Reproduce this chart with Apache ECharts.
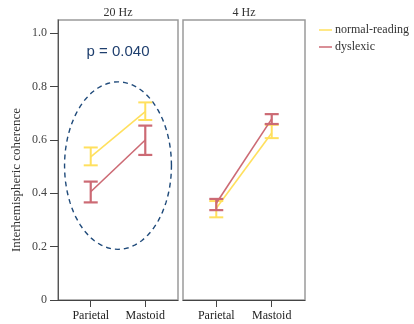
<!DOCTYPE html>
<html><head><meta charset="utf-8">
<script src="https://cdn.jsdelivr.net/npm/echarts@6/dist/echarts.min.js"></script>
<style>html,body{margin:0;padding:0;background:#fff}#c{width:414px;height:324px}</style>
</head><body><div id="c"></div>
<script>
const categories = ['Parietal', 'Mastoid'];
const panelTitles = ['20 Hz', '4 Hz'];
const seriesNames = ['normal-reading', 'dyslexic'];
// 20 Hz panel
const normal20Mean = [0.537, 0.706];
const normal20Low = [0.505, 0.675];
const normal20High = [0.572, 0.741];
const dys20Mean = [0.406, 0.600];
const dys20Low = [0.366, 0.544];
const dys20High = [0.444, 0.654];
// 4 Hz panel
const normal4Mean = [0.344, 0.626];
const normal4Low = [0.310, 0.607];
const normal4High = [0.371, 0.657];
const dys4Mean = [0.363, 0.679];
const dys4Low = [0.337, 0.660];
const dys4High = [0.379, 0.697];
const yTicks = [0, 0.2, 0.4, 0.6, 0.8, 1.0];
const yAxisTitle = 'Interhemispheric coherence';
const pText = 'p = 0.040';
// annotation ellipse in data units (centre x, centre y, radius x, radius y)
const ellipseCentre = [1.5, 0.504];
const ellipseRadius = [0.98, 0.314];

const YELLOW = '#FFE05E';
const RED = '#CC6A74';
const SERIF = '"Liberation Serif", "Times New Roman", serif';

function lineSeries(name, color, idx, mean, z) {
  return {
    type: 'line', name, xAxisIndex: idx, yAxisIndex: idx,
    data: categories.map((c, i) => [i + 1, mean[i]]),
    showSymbol: false, symbol: 'none', lineStyle: { color, width: 1.6 }, itemStyle: { color },
    z, silent: true, animation: false
  };
}
function errSeries(color, idx, low, high, width, z) {
  return {
    type: 'custom', xAxisIndex: idx, yAxisIndex: idx,
    data: categories.map((c, i) => [i + 1, low[i], high[i]]),
    encode: { x: 0, y: [1, 2] },
    renderItem(params, api) {
      const x = api.value(0);
      const lo = api.coord([x, api.value(1)]);
      const hi = api.coord([x, api.value(2)]);
      const hw = 7;
      const style = { stroke: color, lineWidth: width };
      return {
        type: 'group', children: [
          { type: 'line', shape: { x1: lo[0], y1: lo[1], x2: hi[0], y2: hi[1] }, style },
          { type: 'line', shape: { x1: lo[0] - hw, y1: lo[1], x2: lo[0] + hw, y2: lo[1] }, style },
          { type: 'line', shape: { x1: hi[0] - hw, y1: hi[1], x2: hi[0] + hw, y2: hi[1] }, style }
        ]
      };
    },
    z, silent: true, animation: false
  };
}
const ellipseSeries = {
  type: 'custom', xAxisIndex: 0, yAxisIndex: 0,
  data: [[ellipseCentre[0], ellipseCentre[1]]],
  renderItem(params, api) {
    const pts = [];
    for (let k = 0; k <= 96; k++) {
      const t = k / 96 * Math.PI * 2;
      pts.push(api.coord([ellipseCentre[0] + ellipseRadius[0] * Math.cos(t), ellipseCentre[1] + ellipseRadius[1] * Math.sin(t)]));
    }
    return { type: 'polyline', shape: { points: pts }, style: { stroke: '#1F4A7A', lineWidth: 1.4, fill: null, lineDash: [5, 4] } };
  },
  z: 1, silent: true, animation: false
};

const grids = [
  { left: 58, top: 20, width: 120, height: 280 },
  { left: 183, top: 20, width: 122, height: 280 }
];
const xAxes = grids.map((g, i) => ({
  type: 'value', gridIndex: i, min: 0.4, max: 2.6,
  splitLine: { show: false },
  axisLine: { show: true, onZero: false, lineStyle: { color: '#444', width: 1 } },
  axisTick: { show: true, customValues: [1, 2], length: 7, lineStyle: { color: '#444' } },
  axisLabel: { customValues: [1, 2], formatter: v => categories[Math.round(v) - 1], fontFamily: SERIF, fontSize: 12, color: '#222', margin: 10 }
}));
const yAxes = grids.map((g, i) => ({
  type: 'value', gridIndex: i, min: 0, max: 1.05, interval: 0.2,
  splitLine: { show: false },
  axisLine: { show: i === 0, lineStyle: { color: '#555' } },
  axisTick: { show: i === 0, length: 8, lineStyle: { color: '#444' }, customValues: yTicks },
  axisLabel: { show: i === 0, customValues: yTicks, formatter: v => v === 0 ? '0' : v.toFixed(1), fontFamily: SERIF, fontSize: 12, color: '#444', margin: 11 }
}));

const chart = echarts.init(document.getElementById('c'), null, { renderer: 'canvas' });
chart.setOption({
  animation: false,
  backgroundColor: '#fff',
  title: panelTitles.map((t, i) => ({
    text: t, left: grids[i].left + grids[i].width / 2, top: 7, textAlign: 'center', padding: 0,
    textStyle: { fontFamily: SERIF, fontSize: 12, fontWeight: 'normal', color: '#333' }
  })),
  legend: {
    data: seriesNames, orient: 'vertical', left: 319, top: 23, icon: 'rect', itemWidth: 13, itemHeight: 1.5,
    itemGap: 3, padding: 0,
    textStyle: { fontFamily: SERIF, fontSize: 12, color: '#333', padding: [0, 0, 0, -2], lineHeight: 14 }
  },
  grid: grids.map(g => Object.assign({ show: true, borderColor: '#9a9a9a', borderWidth: 1.5, containLabel: false }, g)),
  xAxis: xAxes,
  yAxis: yAxes,
  graphic: [
    { type: 'text', x: 17, y: 180, rotation: Math.PI / 2, style: { text: yAxisTitle, fontFamily: SERIF, fontSize: 13, fill: '#333', align: 'center', verticalAlign: 'middle' } },
    { type: 'text', x: 118, y: 52, style: { text: pText, fontFamily: '"Liberation Sans", Arial, sans-serif', fontSize: 15, fill: '#1F3F6E', align: 'center', verticalAlign: 'middle' } }
  ],
  series: [
    ellipseSeries,
    lineSeries(seriesNames[0], YELLOW, 0, normal20Mean, 3),
    errSeries(YELLOW, 0, normal20Low, normal20High, 2, 3),
    lineSeries(seriesNames[1], RED, 0, dys20Mean, 4),
    errSeries(RED, 0, dys20Low, dys20High, 2.2, 4),
    lineSeries(seriesNames[0], YELLOW, 1, normal4Mean, 3),
    errSeries(YELLOW, 1, normal4Low, normal4High, 2, 3),
    lineSeries(seriesNames[1], RED, 1, dys4Mean, 4),
    errSeries(RED, 1, dys4Low, dys4High, 2.2, 4)
  ]
});
</script>
</body></html>
